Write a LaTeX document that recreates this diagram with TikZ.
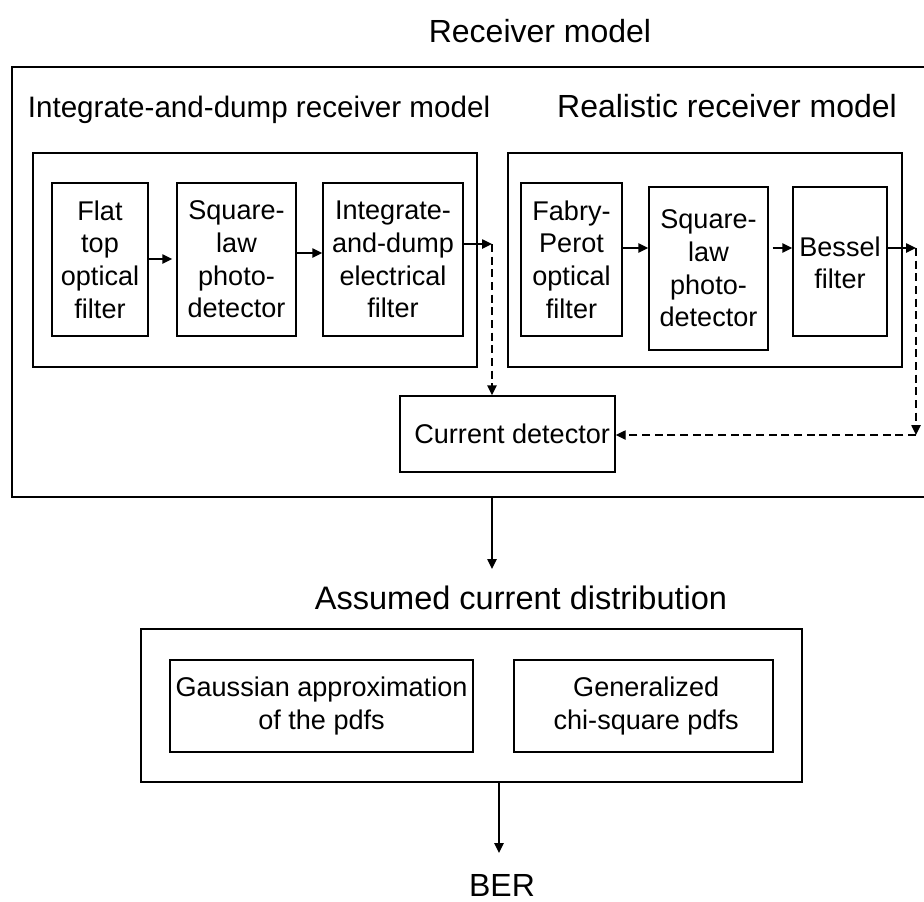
\documentclass[tikz,border=0pt]{standalone}
\usepackage{fontspec}
\setmainfont{Liberation Sans}
\usetikzlibrary{fit,arrows.meta}
\begin{document}
\begin{tikzpicture}[x=0.75pt,y=-0.75pt,
  bigbox/.style={draw, line width=1.4pt, inner sep=0pt},
  midbox/.style={draw, line width=1.1pt, inner sep=0pt},
  box/.style={draw, line width=1.1pt, inner sep=0pt},
  txt/.style={inner sep=0pt, align=center, font=\fontsize{20.3}{24.5}\selectfont},
  heading/.style={font=\fontsize{24}{29}\selectfont, inner sep=0pt, anchor=base},
  arr/.style={line width=1.1pt, -{Triangle[length=7.5pt,width=7pt]}},
  darr/.style={arr, dash pattern=on 6pt off 3.5pt}]
\useasboundingbox (0,0) rectangle (924,901);

% titles
\node[heading] (t1) at (540,42) {Receiver model};
\node[heading, font=\fontsize{22.2}{27}\selectfont] (t2) at (259,117) {Integrate-and-dump receiver model};
\node[heading] (t3) at (727,117) {Realistic receiver model};
\node[heading, font=\fontsize{24.4}{29}\selectfont] (t4) at (521,609) {Assumed current distribution};
\node[heading] (t5) at (502,896) {BER};

% outer boxes
\node[bigbox, fit={(12,67) (928,497)}] (outer) {};
\node[midbox, fit={(33,153) (477,367)}] (idbox) {};
\node[midbox, fit={(508,153) (902,367)}] (rbox) {};
\node[bigbox, fit={(141,629) (802,782)}] (pbox) {};

% left chain
\node[box, fit={(52,183) (148,336)}] (flat) {};
\node[box, fit={(177,183) (296,336)}] (sq1) {};
\node[box, fit={(323,183) (463,336)}] (int) {};
\node[txt] (flatt) at (flat.center) {Flat\\top\\optical\\filter};
\node[txt] (sq1t) at (sq1.center) {Square-\\law\\photo-\\detector};
\node[txt] (intt) at (int.center) {Integrate-\\and-dump\\electrical\\filter};

% right chain
\node[box, fit={(521,183) (622,336)}] (fp) {};
\node[box, fit={(649,187) (768,350)}] (sq2) {};
\node[box, fit={(793,187) (887,336)}] (bes) {};
\node[txt] (fpt) at (fp.center) {Fabry-\\Perot\\optical\\filter};
\node[txt] (sq2t) at (sq2.center) {Square-\\law\\photo-\\detector};
\node[txt] (best) at ([yshift=-1pt]bes.center) {Bessel\\filter};

% current detector
\node[box, fit={(400,396) (615,472)}] (cd) {};
\node[txt] (cdt) at ([xshift=3.5pt]cd.center) {Current detector};

% pdf boxes
\node[box, fit={(170,660) (473,752)}] (gau) {};
\node[box, fit={(514,660) (773,752)}] (gen) {};
\node[txt] (gaut) at (gau.center) {Gaussian approximation\\of the pdfs};
\node[txt] (gent) at ([xshift=2pt]gen.center) {Generalized\\chi-square pdfs};

% junction coordinates
\coordinate (j1) at (492,244);
\coordinate (j2) at (916,248);
\coordinate (j3) at (916,435);
\coordinate (a1) at (492,569);
\coordinate (b1) at (499,853);

% connectors
\draw[arr] (flat.east |- 0,259) -- ([xshift=-3pt]sq1.west |- 0,259);
\draw[arr] (sq1.east |- 0,253) -- (int.west |- 0,253);
\draw[arr] (int.east |- j1) -- (j1);
\draw[darr] (j1) -- (cd.north -| j1);

\draw[arr] (fp.east |- 0,248) -- (sq2.west |- 0,248);
\draw[arr] ([xshift=3pt]sq2.east |- 0,248) -- (bes.west |- 0,248);
\draw[arr] (bes.east |- j2) -- (j2);
\draw[darr] (j2) -- (j3);
\draw[darr] (j3) -- (cd.east |- j3);

\draw[arr] (outer.south -| a1) -- (a1);
\draw[arr] (pbox.south -| b1) -- (b1);
\end{tikzpicture}
\end{document}
